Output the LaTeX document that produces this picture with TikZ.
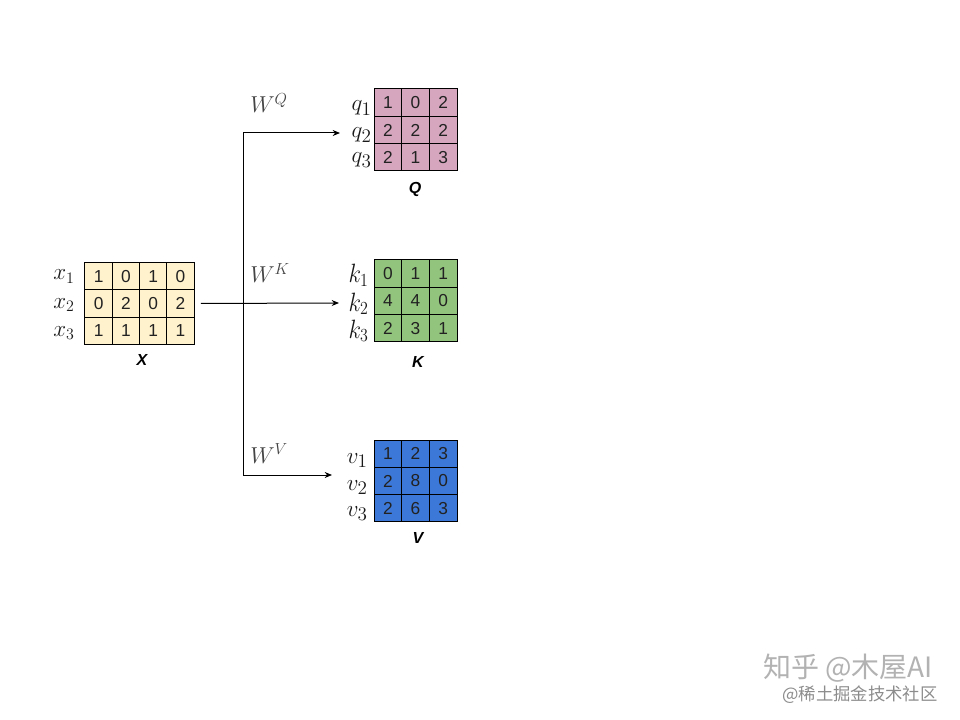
\documentclass[tikz,border=0pt]{standalone}
\usepackage{fontspec}
\setmainfont{Liberation Sans}
\newfontfamily\cjkfont{Noto Sans CJK SC}
\usepackage{graphicx}
\usetikzlibrary{arrows.meta,fit}
\definecolor{xfill}{HTML}{FFF2CC}
\definecolor{qfill}{HTML}{D5A6BD}
\definecolor{kfill}{HTML}{93C47D}
\definecolor{vfill}{HTML}{3C78D8}
\definecolor{txt}{HTML}{222222}
\definecolor{mathc}{HTML}{1A1A1A}
\definecolor{wcol}{HTML}{444444}
\begin{document}
\begin{tikzpicture}[x=0.75pt,y=-0.75pt,
  cellbase/.style={draw=black,line width=0.75pt,inner sep=0pt,text=txt,font=\fontsize{13}{13}\selectfont},
  xcell/.style={cellbase,fill=xfill,minimum width=20.44pt,minimum height=20.25pt},
  qcell/.style={cellbase,fill=qfill,minimum width=20.75pt,minimum height=20.5pt},
  kcell/.style={cellbase,fill=kfill,minimum width=20.75pt,minimum height=20.5pt},
  vcell/.style={cellbase,fill=vfill,minimum width=20.75pt,minimum height=20.5pt},
  mname/.style={inner sep=0pt,font=\fontsize{12}{12}\selectfont\bfseries\itshape},
  rowlab/.style={inner sep=0pt,anchor=base east,text=mathc},
  wlab/.style={inner sep=0pt,anchor=base west,text=wcol,font=\fontsize{17}{17}\selectfont},
  conn/.style={line width=0.75pt,draw=black},
  arr/.style={conn,-{Stealth[length=5.5pt,width=4.5pt]}},
  wm/.style={inner sep=0pt}
]
\useasboundingbox (0,0) rectangle (960,720);

% X matrix
\foreach \r/\row in {1/{1,0,1,0},2/{0,2,0,2},3/{1,1,1,1}}{
  \foreach \v [count=\c] in \row {
    \node[xcell] (X-\r-\c) at ({85+27.25*(\c-0.5)},{263+27*(\r-0.5)}) {\v};
  }
}
\node[fit=(X-1-1)(X-3-4),inner sep=0pt] (X) {};
\node[mname] (Xn) at (142,360) {X};

% Q matrix
\foreach \r/\row in {1/{1,0,2},2/{2,2,2},3/{2,1,3}}{
  \foreach \v [count=\c] in \row {
    \node[qcell] (Q-\r-\c) at ({374+27.67*(\c-0.5)},{89+27.33*(\r-0.5)}) {\v};
  }
}
\node[fit=(Q-1-1)(Q-3-3),inner sep=0pt] (Q) {};
\node[mname] (Qn) at (415,189) {Q};

% K matrix
\foreach \r/\row in {1/{0,1,1},2/{4,4,0},3/{2,3,1}}{
  \foreach \v [count=\c] in \row {
    \node[kcell] (K-\r-\c) at ({374+27.67*(\c-0.5)},{260+27.33*(\r-0.5)}) {\v};
  }
}
\node[fit=(K-1-1)(K-3-3),inner sep=0pt] (K) {};
\node[mname] (Kn) at (418,362) {K};

% V matrix
\foreach \r/\row in {1/{1,2,3},2/{2,8,0},3/{2,6,3}}{
  \foreach \v [count=\c] in \row {
    \node[vcell] (V-\r-\c) at ({374+27.67*(\c-0.5)},{440+27.33*(\r-0.5)}) {\v};
  }
}
\node[fit=(V-1-1)(V-3-3),inner sep=0pt] (V) {};
\node[mname] (Vn) at (418,538) {V};

% row labels
\node[rowlab,font=\fontsize{17}{17}\selectfont] (x1) at (75,280) {$x_1$};
\node[rowlab,font=\fontsize{17}{17}\selectfont] (x2) at (75,308) {$x_2$};
\node[rowlab,font=\fontsize{17}{17}\selectfont] (x3) at (75,336) {$x_3$};
\node[rowlab,font=\fontsize{19}{19}\selectfont] (q1) at (372,111) {$q_1$};
\node[rowlab,font=\fontsize{19}{19}\selectfont] (q2) at (372,138) {$q_2$};
\node[rowlab,font=\fontsize{19}{19}\selectfont] (q3) at (372,163) {$q_3$};
\node[rowlab,font=\fontsize{18}{18}\selectfont] (k1) at (369,283) {\scalebox{1}[1.15]{$k_1$}};
\node[rowlab,font=\fontsize{18}{18}\selectfont] (k2) at (369,311) {\scalebox{1}[1.15]{$k_2$}};
\node[rowlab,font=\fontsize{18}{18}\selectfont] (k3) at (369,338) {\scalebox{1}[1.15]{$k_3$}};
\node[rowlab,font=\fontsize{19}{19}\selectfont] (v1) at (368,463) {$v_1$};
\node[rowlab,font=\fontsize{19}{19}\selectfont] (v2) at (368,490) {$v_2$};
\node[rowlab,font=\fontsize{19}{19}\selectfont] (v3) at (368,516) {$v_3$};

% weight labels
\node[wlab] (WQ) at (250,113) {$W^Q$};
\node[wlab] (WK) at (250,283) {$W^K$};
\node[wlab] (WV) at (250,463) {$W^V$};

% connectors
\coordinate (J) at (243,303);
\coordinate (qin) at (340,133);
\coordinate (kin) at (339,303);
\coordinate (vin) at (332,475);
\draw[arr,shorten <=4.5pt] (X.east) -- (kin);
\draw[arr] (J) |- (qin);
\draw[arr] (J) |- (vin);

% watermark
\node[wm,text=black!30,font=\cjkfont\fontsize{21}{21}\selectfont] (wm1) at (848,668) {知乎 @木屋AI};
\node[wm,text=black!45,font=\cjkfont\fontsize{13}{13}\selectfont] (wm2) at (860,695) {@稀土掘金技术社区};
\end{tikzpicture}
\end{document}
